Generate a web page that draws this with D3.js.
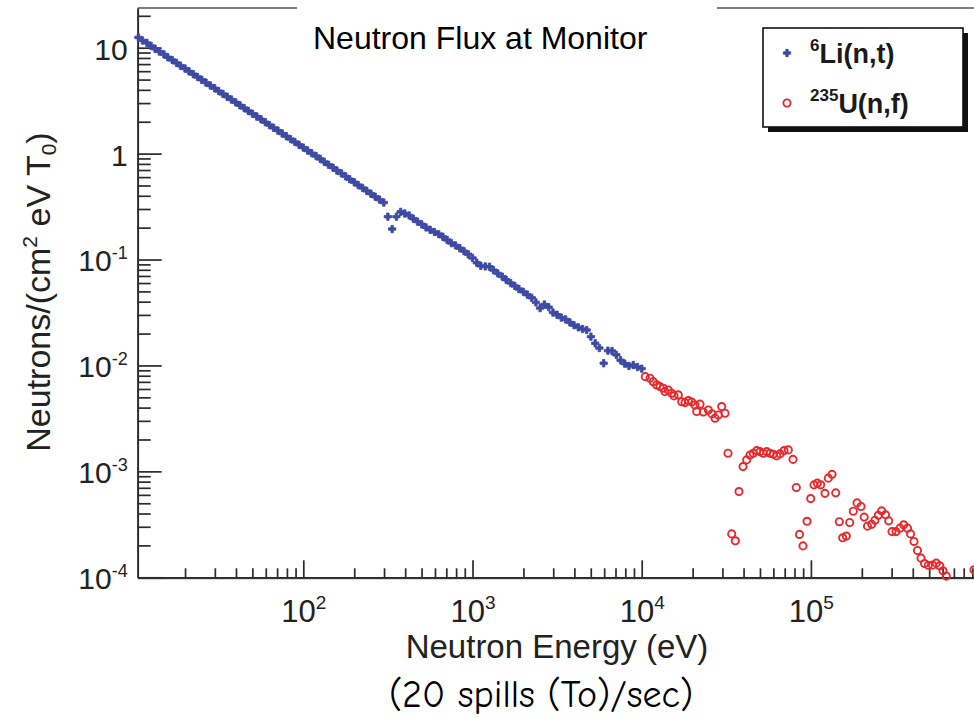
<!DOCTYPE html>
<html>
<head>
<meta charset="utf-8">
<script src="https://cdn.jsdelivr.net/npm/d3@7"></script>
<style>
  html, body { margin: 0; padding: 0; background: #ffffff; }
  svg { display: block; font-family: "Liberation Sans", Arial, Helvetica, sans-serif; }
</style>
</head>
<body>
<svg id="chart" width="974" height="718"></svg>
<script>
// 6Li(n,t) monitor: neutron energy (eV) and flux (neutrons / cm^2 eV T0)
const liEnergy = [
  10.6, 11.2, 11.9, 12.6, 13.3, 14.1, 15.0, 15.8, 16.8, 17.8, 18.8,
  20.0, 21.1, 22.4, 23.7, 25.1, 26.6, 28.2, 29.9, 31.6, 33.5, 35.5, 37.6, 39.8, 42.2, 44.7, 47.3,
  50.1, 53.1, 56.2, 59.6, 63.1, 66.8, 70.8, 75.0, 79.4, 84.1, 89.1, 94.4,
  100, 106, 112, 119, 126, 133, 141, 150, 158, 168, 178, 188, 200, 211, 224, 237, 251, 266, 282, 299,
  316, 335, 355, 376, 398, 422, 447, 473, 501, 531, 562, 596, 631, 668, 708, 750, 794, 841, 891, 944,
  1000, 1060, 1120, 1190, 1260, 1330, 1410, 1500, 1580, 1680, 1780, 1880, 2000, 2110, 2240, 2370,
  2510, 2660, 2820, 2990, 3160, 3350, 3550, 3760, 3980, 4220, 4470, 4730, 5010, 5310, 5620, 5960,
  6310, 6680, 7080, 7500, 7940, 8410, 8910, 9440, 10000
];
const liFlux = [
  12.5, 11.7, 11.1, 10.4, 9.77, 9.20, 8.65, 8.13, 7.65, 7.19, 6.76,
  6.36, 5.98, 5.62, 5.29, 4.98, 4.68, 4.40, 4.14, 3.89, 3.66, 3.44, 3.24, 3.05, 2.86, 2.69, 2.53,
  2.38, 2.24, 2.11, 1.98, 1.86, 1.75, 1.65, 1.55, 1.46, 1.37, 1.29, 1.21,
  1.14, 1.07, 1.01, 0.949, 0.891, 0.836, 0.785, 0.736, 0.692, 0.650, 0.610, 0.573, 0.537, 0.505, 0.474, 0.445, 0.418, 0.392, 0.368, 0.345,
  0.254, 0.194, 0.254, 0.282, 0.272, 0.261, 0.243, 0.228, 0.215, 0.201, 0.191, 0.182, 0.174, 0.164, 0.153, 0.143, 0.136, 0.128, 0.120, 0.112,
  0.1035, 0.0933, 0.0871, 0.0861, 0.0855, 0.0794, 0.0740, 0.0690, 0.0645, 0.0600, 0.0562, 0.0527, 0.0495, 0.0466, 0.0435, 0.0394,
  0.0348, 0.0376, 0.0355, 0.0316, 0.0301, 0.0283, 0.0272, 0.0255, 0.0240, 0.0229, 0.0221, 0.0216, 0.0187, 0.0162, 0.0146, 0.0105,
  0.0138, 0.0137, 0.0126, 0.0112, 0.0104, 0.00989, 0.0101, 0.00966, 0.00933
];

// 235U(n,f) monitor: neutron energy (eV) and flux
const uEnergy = [
  1.05e4, 1.12e4, 1.17e4, 1.227e4, 1.283e4, 1.342e4, 1.373e4, 1.436e4, 1.504e4, 1.552e4,
  1.646e4, 1.724e4, 1.803e4, 1.886e4, 1.975e4, 2.065e4, 2.113e4, 2.211e4, 2.312e4, 2.476e4,
  2.603e4, 2.712e4, 2.836e4, 2.971e4, 3.107e4, 3.236e4, 3.404e4, 3.574e4, 3.759e4, 3.969e4,
  4.174e4, 4.366e4, 4.566e4, 4.782e4, 5.002e4, 5.232e4, 5.48e4, 5.731e4, 5.994e4, 6.28e4,
  6.568e4, 6.935e4, 7.353e4, 7.838e4, 8.198e4, 8.563e4, 8.981e4, 9.484e4, 9.97e4, 1.043e5,
  1.091e5, 1.143e5, 1.211e5, 1.267e5, 1.333e5, 1.402e5, 1.472e5, 1.541e5, 1.619e5, 1.696e5,
  1.781e5, 1.873e5, 1.978e5, 2.065e5, 2.16e5, 2.287e5, 2.392e5, 2.502e5, 2.62e5, 2.76e5,
  2.883e5, 3.015e5, 3.184e5, 3.362e5, 3.536e5, 3.724e5, 3.879e5, 4.068e5, 4.266e5, 4.474e5,
  4.692e5, 4.941e5, 5.232e5, 5.509e5, 5.77e5, 6.035e5, 6.312e5, 9.2e5
];
const uFlux = [
  7.84e-3, 7.57e-3, 7.03e-3, 6.55e-3, 6.31e-3, 6.09e-3, 5.66e-3, 5.87e-3, 5.47e-3, 5.16e-3,
  5.27e-3, 4.55e-3, 4.46e-3, 4.66e-3, 4.52e-3, 4.24e-3, 3.67e-3, 4.31e-3, 3.64e-3, 3.80e-3,
  3.49e-3, 3.18e-3, 3.41e-3, 4.09e-3, 3.54e-3, 1.485e-3, 2.57e-4, 2.21e-4, 6.45e-4, 1.11e-3,
  1.284e-3, 1.43e-3, 1.485e-3, 1.571e-3, 1.537e-3, 1.485e-3, 1.537e-3, 1.485e-3, 1.453e-3, 1.40e-3,
  1.462e-3, 1.571e-3, 1.595e-3, 1.298e-3, 7.04e-4, 2.54e-4, 1.98e-4, 3.38e-4, 5.54e-4, 7.46e-4,
  7.74e-4, 7.46e-4, 6.20e-4, 8.63e-4, 9.37e-4, 6.27e-4, 3.35e-4, 2.36e-4, 2.45e-4, 3.29e-4,
  4.21e-4, 5.04e-4, 4.66e-4, 3.70e-4, 3.04e-4, 3.16e-4, 3.46e-4, 3.85e-4, 4.24e-4, 3.89e-4,
  3.41e-4, 2.70e-4, 2.70e-4, 2.91e-4, 3.13e-4, 2.91e-4, 2.57e-4, 2.18e-4, 1.79e-4, 1.517e-4,
  1.35e-4, 1.30e-4, 1.303e-4, 1.36e-4, 1.284e-4, 1.151e-4, 1.026e-4, 1.177e-4
];

// axis ticks and labels (base + exponent)
const xMajorTicks = [1e2, 1e3, 1e4, 1e5];
const xTickBase = ["10", "10", "10", "10"];
const xTickExp = ["2", "3", "4", "5"];
const yMajorTicks = [10, 1, 1e-1, 1e-2, 1e-3, 1e-4];
const yTickBase = ["10", "1", "10", "10", "10", "10"];
const yTickExp = ["", "", "-1", "-2", "-3", "-4"];

const legendSup = ["6", "235"];
const legendMain = ["Li(n,t)", "U(n,f)"];
const titleText = "Neutron Flux at Monitor";
const xTitle = "Neutron Energy (eV)";
const captionText = "(20 spills (To)/sec)";

const BLUE = "#3c4aa2";
const RED = "#e8282c";
const AXIS = "#2b2b2b";

const W = 974, H = 718;
const plotLeft = 137.7, plotTop = 8, plotBottom = 577.3, plotRight = 980.1;

const svg = d3.select("#chart");

const x = d3.scaleLog().domain([10.5, 1e6]).range([plotLeft, plotRight]);
const y = d3.scaleLog().domain([1e-4, 23.7]).range([plotBottom, plotTop]);

// minor tick values: 2..9 times each decade inside the domain
function minorTicks(scale) {
  const [lo, hi] = scale.domain();
  const out = [];
  for (let e = Math.floor(Math.log10(lo)); e <= Math.ceil(Math.log10(hi)); e++) {
    for (let k = 2; k <= 9; k++) {
      const v = k * Math.pow(10, e);
      if (v > lo && v < hi) out.push(v);
    }
  }
  return out;
}

// top frame line
svg.append("line")
  .attr("x1", plotLeft).attr("x2", W)
  .attr("y1", plotTop).attr("y2", plotTop)
  .attr("stroke", "#555").attr("stroke-width", 1.4);

// faint tint under the bottom axis line
svg.append("line")
  .attr("x1", plotLeft).attr("x2", W)
  .attr("y1", plotBottom + 2).attr("y2", plotBottom + 2)
  .attr("stroke", "#f2c8c8").attr("stroke-width", 1.2);

// X axis
const gx = svg.append("g").attr("transform", `translate(0,${plotBottom})`);
gx.append("g").call(d3.axisBottom(x).tickValues(minorTicks(x)).tickSize(-9).tickSizeOuter(0).tickFormat(""));
const gxMajor = gx.append("g").call(d3.axisBottom(x).tickValues(xMajorTicks).tickSize(-17).tickSizeOuter(0));
gx.selectAll("path, line").attr("stroke", AXIS).attr("stroke-width", 1.7);
gxMajor.selectAll(".tick text").each(function (d, i) {
  const t = d3.select(this);
  t.attr("y", 45).attr("dy", null).attr("fill", "#222")
    .attr("font-size", 31).attr("font-family", "Liberation Sans, Arial, sans-serif")
    .text(xTickBase[i]);
  t.append("tspan").attr("dy", -13).attr("font-size", 19).text(xTickExp[i]);
});

// Y axis
const gy = svg.append("g").attr("transform", `translate(${plotLeft},0)`);
gy.append("g").call(d3.axisLeft(y).tickValues(minorTicks(y)).tickSize(-13).tickSizeOuter(0).tickFormat(""));
const gyMajor = gy.append("g").call(d3.axisLeft(y).tickValues(yMajorTicks).tickSize(-24).tickSizeOuter(0).tickPadding(10));
gy.selectAll("path, line").attr("stroke", AXIS).attr("stroke-width", 1.7);
gyMajor.selectAll(".tick text").each(function (d, i) {
  const t = d3.select(this);
  t.attr("dy", "0.38em").attr("fill", "#222")
    .attr("font-size", 30).attr("font-family", "Liberation Sans, Arial, sans-serif")
    .text(yTickBase[i]);
  if (yTickExp[i]) t.append("tspan").attr("dy", -12).attr("font-size", 18).text(yTickExp[i]);
});

// 6Li(n,t) points: small filled crosses
const liData = liEnergy.map((e, i) => ({ e, f: liFlux[i] }));
const cross = d3.symbol().type(d3.symbolCross).size(30);
svg.append("g").selectAll("path").data(liData).join("path")
  .attr("d", cross)
  .attr("transform", d => `translate(${x(d.e)},${y(d.f)})`)
  .attr("fill", BLUE).attr("stroke", BLUE).attr("stroke-width", 0.8).attr("stroke-linejoin", "round");

// 235U(n,f) points: open circles
const uData = uEnergy.map((e, i) => ({ e, f: uFlux[i] }));
svg.append("g").selectAll("circle").data(uData).join("circle")
  .attr("cx", d => x(d.e)).attr("cy", d => y(d.f))
  .attr("r", 3.6)
  .attr("fill", "none").attr("stroke", RED).attr("stroke-width", 1.9);

// title box
svg.append("rect").attr("x", 297).attr("y", 0).attr("width", 420).attr("height", 67).attr("fill", "#ffffff");
svg.append("text").attr("x", 313).attr("y", 49)
  .attr("font-size", 32).attr("fill", "#000").text(titleText);

// legend with drop shadow
const lg = svg.append("g");
lg.append("rect").attr("x", 768).attr("y", 33).attr("width", 200).attr("height", 99).attr("fill", "#111");
lg.append("rect").attr("x", 763).attr("y", 28).attr("width", 200).attr("height", 99)
  .attr("fill", "#fff").attr("stroke", "#111").attr("stroke-width", 1.6);
const legRowY = [53, 103];
lg.append("path").attr("d", cross).attr("transform", `translate(787,${legRowY[0]})`)
  .attr("fill", BLUE).attr("stroke", BLUE).attr("stroke-width", 0.8);
lg.append("circle").attr("cx", 787).attr("cy", legRowY[1]).attr("r", 3.6)
  .attr("fill", "none").attr("stroke", RED).attr("stroke-width", 1.9);
legendMain.forEach((label, i) => {
  const t = lg.append("text").attr("x", 810).attr("y", legRowY[i] + 10)
    .attr("font-weight", "bold").attr("fill", "#1a1a1a");
  t.append("tspan").attr("font-size", 17).attr("dy", -12).text(legendSup[i]);
  t.append("tspan").attr("font-size", 27).attr("dy", 12).text(label);
});

// axis titles
svg.append("text").attr("x", 557).attr("y", 658).attr("text-anchor", "middle")
  .attr("font-size", 33).attr("fill", "#222").text(xTitle);

const yt = svg.append("text").attr("text-anchor", "middle").attr("fill", "#222")
  .attr("font-size", 34)
  .attr("transform", "translate(50,292) rotate(-90)");
yt.append("tspan").text("Neutrons/(cm");
yt.append("tspan").attr("font-size", 21).attr("dy", -13).text("2");
yt.append("tspan").attr("dy", 13).text(" eV T");
yt.append("tspan").attr("font-size", 21).attr("dy", 6).text("0");
yt.append("tspan").attr("dy", -6).text(")");

// caption
svg.append("text").attr("x", 541).attr("y", 707).attr("text-anchor", "middle")
  .attr("font-family", "'Comic Sans MS', 'Comic Neue', 'Noto Sans', sans-serif")
  .attr("font-size", 38).attr("fill", "#000").text(captionText);
</script>
</body>
</html>
